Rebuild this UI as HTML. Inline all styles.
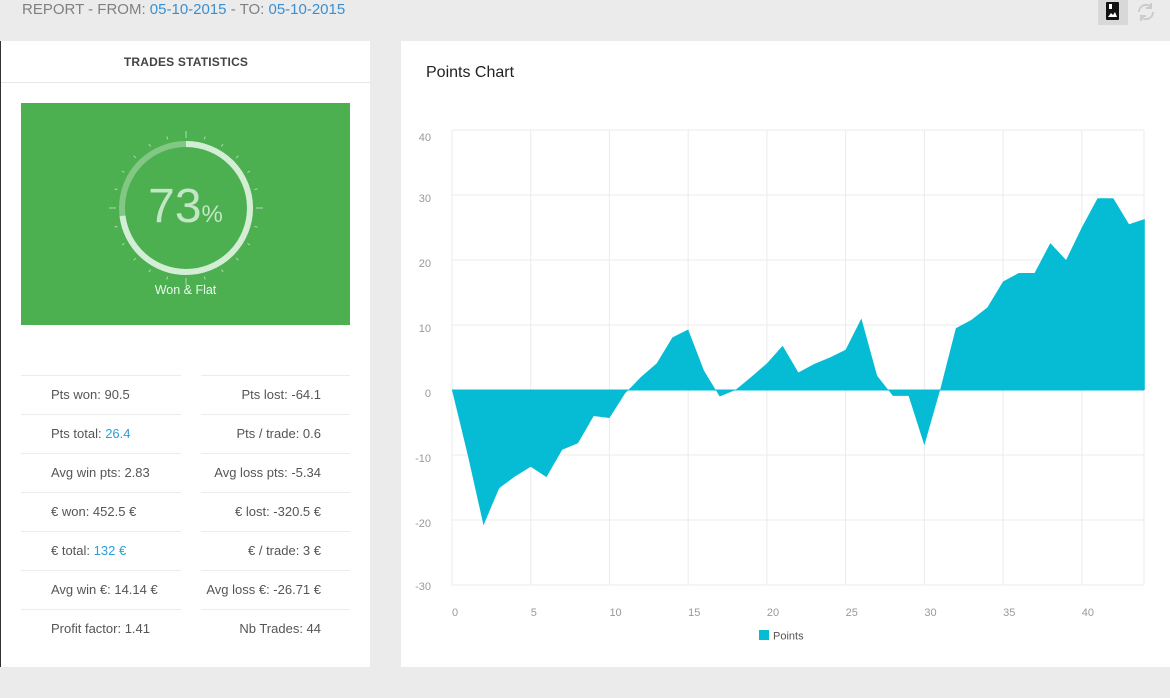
<!DOCTYPE html>
<html><head><meta charset="utf-8"><style>
body{margin:0;width:1170px;height:698px;background:#ebebeb;font-family:"Liberation Sans",sans-serif;position:relative;overflow:hidden}
.abs{position:absolute}
.stat{position:absolute;font-size:13px;color:#555;line-height:16px}
.line{position:absolute;height:1px;background:#ececec}
.blue{color:#2a9fd8}
</style></head><body>
<div class="abs" style="left:22px;top:1px;font-size:15px;color:#808080">REPORT - FROM: <span style="color:#3a8fd0">05-10-2015</span> - TO: <span style="color:#3a8fd0">05-10-2015</span></div>
<div class="abs" style="left:1098px;top:0;width:30px;height:25px;background:#d8d8d8">
<svg width="30" height="25"><rect x="8" y="2" width="13" height="18" rx="1" fill="#111"/><path d="M10 17l3-4 2 2 2-3 2 5z" fill="#fff"/><rect x="11" y="4" width="3" height="5" fill="#fff"/></svg></div>
<div class="abs" style="left:1134px;top:0;width:24px;height:25px">
<svg width="24" height="25"><path d="M5 12a7 7 0 0 1 12-5M19 12a7 7 0 0 1-12 5" stroke="#ccc" stroke-width="2" fill="none"/><path d="M17 3v5h-5" fill="none" stroke="#ccc" stroke-width="2"/><path d="M7 21v-5h5" fill="none" stroke="#ccc" stroke-width="2"/></svg></div>

<div class="abs" style="left:0;top:41px;width:370px;height:626px;background:#fff;border-left:1px solid #333;box-sizing:border-box">
<div class="abs" style="left:0;top:14px;width:370px;text-align:center;font-size:12px;color:#444;font-weight:bold;letter-spacing:0.2px">TRADES STATISTICS</div>
<div class="line" style="left:0;top:41px;width:370px;background:#e6e6e6"></div>
<div class="abs" style="left:20px;top:62px;width:329px;height:222px;background:#4caf50">
<svg width="329" height="222" id="gauge"></svg>
<div class="abs" style="left:0;top:76px;width:329px;text-align:center;color:#c4e6c6;font-size:48px;font-weight:300">73<span style="font-size:24px">%</span></div>
<div class="abs" style="left:0;top:180px;width:329px;text-align:center;color:#eef8ee;font-size:12.5px">Won &amp; Flat</div>
</div>
<div id="stats"></div>
</div>

<div class="abs" style="left:401px;top:41px;width:769px;height:626px;background:#fff">
<div class="abs" style="left:25px;top:23px;font-size:16px;color:#222">Points Chart</div>
</div>
<svg class="abs" style="left:0;top:0" width="1170" height="698" id="chart"></svg>

<script>
const categories=[];for(let i=0;i<=44;i++)categories.push(i);
const pointsValues=[0,-10,-20.8,-15.1,-13.3,-11.8,-13.4,-9.2,-8.2,-4,-4.3,-0.5,2,4.1,8.1,9.3,3,-1,0,2,4.1,6.8,2.7,4,5,6.2,11,2.2,-0.9,-0.9,-8.5,0,9.5,10.8,12.7,16.7,18,18,22.6,20,25,29.5,29.5,25.5,26.3];
const yTicks=[40,30,20,10,0,-10,-20,-30];
const xTicks=[0,5,10,15,20,25,30,35,40];
const leftStats=[["Pts won: 90.5",""],["Pts total: ","26.4"],["Avg win pts: 2.83",""],["€ won: 452.5 €",""],["€ total: ","132 €"],["Avg win €: 14.14 €",""],["Profit factor: 1.41",""]];
const rightStats=["Pts lost: -64.1","Pts / trade: 0.6","Avg loss pts: -5.34","€ lost: -320.5 €","€ / trade: 3 €","Avg loss €: -26.71 €","Nb Trades: 44"];
const winRate=73;

const NS="http://www.w3.org/2000/svg";
function mk(p,t,a){const e=document.createElementNS(NS,t);for(const k in a)e.setAttribute(k,a[k]);p.appendChild(e);return e;}
const g=document.getElementById('gauge');const cx=165,cy=105,r=64;
for(let i=0;i<24;i++){const a=i/24*2*Math.PI;const r1=i%6==0?70:71,r2=i%6==0?77:74;
const t=mk(g,'line',{x1:cx+r1*Math.sin(a),y1:cy-r1*Math.cos(a),x2:cx+r2*Math.sin(a),y2:cy-r2*Math.cos(a),stroke:'rgba(255,255,255,0.55)','stroke-width':1});
}
const bg=mk(g,'circle',{cx:cx,cy:cy,r:r,fill:'none',stroke:'rgba(255,255,255,0.3)','stroke-width':6});

const C=2*Math.PI*r;
const arc=mk(g,'circle',{cx:cx,cy:cy,r:r,fill:'none',stroke:'#d4eed5','stroke-width':6,'stroke-dasharray':(C*winRate/100)+' '+C,transform:`rotate(-90 ${cx} ${cy})`});

const st=document.getElementById('stats');const rowY=[334,373,412,451,490,529,568];
for(let i=0;i<7;i++){
 const l=document.createElement('div');l.className='line';l.style.cssText=`left:20px;top:${rowY[i]}px;width:160px`;st.appendChild(l);
 
 const l2=document.createElement('div');l2.className='line';l2.style.cssText=`left:200px;top:${rowY[i]}px;width:149px`;st.appendChild(l2);
 
 const a=document.createElement('div');a.className='stat';a.style.cssText=`left:50px;top:${rowY[i]+12}px`;
 a.innerHTML=leftStats[i][0]+(leftStats[i][1]?'<span class="blue">'+leftStats[i][1]+'</span>':'');st.appendChild(a);
 
 const b=document.createElement('div');b.className='stat';b.style.cssText=`right:49px;top:${rowY[i]+12}px;text-align:right`;b.textContent=rightStats[i];st.appendChild(b);
 
}
const s=document.getElementById('chart');
const X0=452,X1=1144,Y0=130,Y1=585;
const xs=v=>X0+v*(X1-X0)/43.95;const ys=v=>Y0+(40-v)*(Y1-Y0)/70;
for(const t of yTicks){const gl=mk(s,'line',{x1:X0,x2:X1,y1:ys(t),y2:ys(t),stroke:'#ebebeb'});

const tx=mk(s,'text',{x:431,y:ys(t)+(t==40?11:t==-30?5:7),'text-anchor':'end','font-size':11,fill:'#999','font-family':'Liberation Sans'});tx.textContent=t;
}
for(const t of xTicks){const gl=mk(s,'line',{x1:xs(t),x2:xs(t),y1:Y0,y2:Y1,stroke:'#ebebeb'});

const tx=mk(s,'text',{x:xs(t),y:616,'font-size':11,fill:'#999','font-family':'Liberation Sans'});tx.textContent=t;
}
const rb=mk(s,'line',{x1:X1,x2:X1,y1:Y0,y2:Y1,stroke:'#ebebeb'});
let d=`M${xs(0)},${ys(0)}`;categories.forEach((c,i)=>{d+=`L${xs(c)},${ys(pointsValues[i])}`;});d+=`L${xs(categories[categories.length-1])},${ys(0)}Z`;
const area=mk(s,'path',{d:d,fill:'#06bcd5'});
const zl=mk(s,'line',{x1:X0,x2:X1,y1:ys(0),y2:ys(0),stroke:'#06bcd5','stroke-width':1});
const lg=mk(s,'rect',{x:759,y:630,width:10,height:10,fill:'#06bcd5'});
const lt=mk(s,'text',{x:773,y:639.5,'font-size':11,fill:'#555','font-family':'Liberation Sans'});lt.textContent='Points';
</script>
</body></html>
